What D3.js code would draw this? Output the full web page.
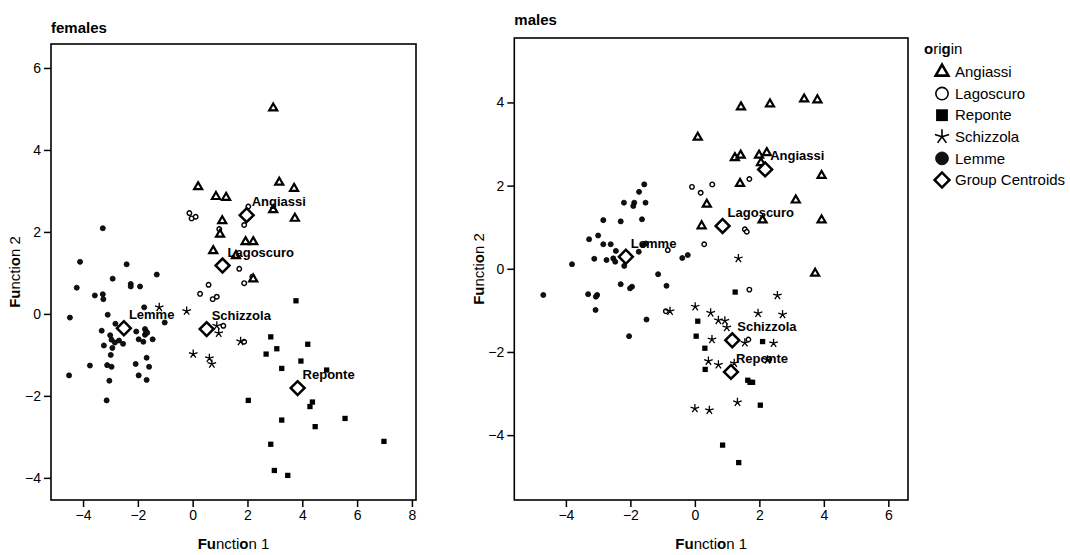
<!DOCTYPE html>
<html>
<head>
<meta charset="utf-8">
<script src="https://cdn.jsdelivr.net/npm/d3@7"></script>
<style>
  body { margin: 0; background: #fff; }
  svg { font-family: "Liberation Sans", Arial, sans-serif; }
  .tick text { font-size: 14px; fill: #000; }
  .tick line { stroke: #000; stroke-width: 1.5; }
</style>
</head>
<body>
<svg width="1070" height="555"></svg>
<script>
// ---- data (discriminant scores) ----
var groups = ["Angiassi", "Lagoscuro", "Reponte", "Schizzola", "Lemme"];

var femAngiassi = [[2.94,5.02],[0.20,3.10],[0.85,2.86],[1.22,2.84],[3.16,3.21],[3.70,3.06],[2.94,2.54],[3.73,2.33],
  [1.08,2.27],[1.00,1.94],[1.93,1.76],[2.21,1.76],[0.75,1.54],[1.58,1.42],[2.21,0.85]];
var femLagoscuro = [[-0.12,2.46],[-0.04,2.33],[0.11,2.37],[0.97,2.07],[1.88,2.17],[2.03,2.62],[0.27,0.49],[0.58,0.71],
  [0.73,0.36],[0.88,0.42],[1.12,-0.29],[1.70,1.10],[1.88,0.75],[1.88,-0.68],[2.18,0.91]];
var femReponte = [[3.77,0.32],[2.85,-0.56],[3.07,-0.85],[2.68,-0.98],[4.20,-0.74],[3.95,-1.15],[3.25,-1.33],[4.89,-1.37],
  [2.03,-2.11],[4.37,-2.15],[4.28,-2.26],[3.25,-2.59],[4.47,-2.75],[5.56,-2.55],[2.85,-3.18],[6.98,-3.11],[2.98,-3.82],[3.47,-3.94]];
var femSchizzola = [[-1.22,0.16],[-0.22,0.07],[0.88,-0.29],[0.95,-0.47],[0.02,-0.98],[0.61,-1.08],[0.70,-1.22],[1.75,-0.67]];
var femLemme = [[-3.28,2.09],[-4.11,1.27],[-2.41,1.21],[-2.92,0.86],[-1.31,0.96],[-4.23,0.64],[-2.26,0.73],[-2.26,0.67],
  [-1.92,0.67],[-3.57,0.45],[-3.28,0.48],[-3.26,0.36],[-1.77,0.16],[-4.48,-0.09],[-3.10,-0.02],[-1.02,-0.21],[-2.82,-0.24],
  [-3.32,-0.41],[-3.01,-0.52],[-2.96,-0.63],[-2.84,-0.70],[-2.69,-0.65],[-2.54,-0.73],[-2.93,-0.83],[-3.24,-0.77],
  [-2.06,-0.43],[-1.97,-0.62],[-1.80,-0.68],[-1.74,-0.37],[-1.70,-0.43],[-1.74,-0.51],[-1.46,-0.62],[-1.66,-0.46],
  [-2.99,-1.00],[-1.68,-1.07],[-1.59,-1.29],[-2.08,-1.22],[-1.97,-1.50],[-1.68,-1.61],[-3.75,-1.26],[-3.12,-1.25],
  [-2.96,-1.29],[-3.04,-1.63],[-4.51,-1.50],[-3.14,-2.11]];
var femCentroids = [[1.97,2.41],[1.09,1.18],[3.83,-1.81],[0.51,-0.37],[-2.51,-0.35]];

var maleAngiassi = [[0.09,3.16],[1.43,3.89],[2.33,3.96],[3.39,4.08],[3.80,4.06],[1.24,2.67],[1.42,2.73],[1.99,2.73],
  [2.23,2.79],[2.05,2.55],[1.40,2.05],[0.37,1.55],[3.13,1.65],[0.21,1.03],[2.10,1.17],[3.93,2.24],[3.93,1.17],[3.73,-0.11]];
var maleLagoscuro = [[-0.09,1.97],[0.18,1.83],[0.54,2.03],[1.69,2.16],[1.55,0.95],[1.61,0.89],[0.29,0.59],[-0.84,0.45],
  [1.69,-0.50],[1.66,-1.70],[2.31,-2.17],[-0.90,-1.02]];
var maleReponte = [[1.25,-0.56],[0.09,-1.26],[0.04,-1.62],[0.31,-1.91],[2.10,-1.75],[0.32,-2.42],[1.64,-2.68],[1.71,-2.73],
  [1.79,-2.73],[2.03,-3.28],[0.86,-4.24],[1.36,-4.66]];
var maleSchizzola = [[-0.77,-1.02],[0.01,-0.91],[0.49,-1.06],[0.73,-1.24],[0.93,-1.25],[0.99,-1.41],[0.53,-1.70],[1.96,-1.07],
  [2.72,-1.10],[2.56,-0.64],[1.55,-1.78],[2.44,-1.79],[0.42,-2.22],[0.73,-2.31],[1.22,-2.27],[2.25,-2.19],[1.32,-3.21],
  [0.00,-3.36],[0.45,-3.40],[1.35,0.25]];
var maleLemme = [[-1.57,2.03],[-1.73,1.85],[-2.20,1.59],[-1.88,1.59],[-1.91,1.51],[-1.53,1.59],[-2.84,1.17],[-2.30,1.14],
  [-1.64,1.19],[-3.28,0.71],[-3.00,0.80],[-2.84,0.59],[-2.61,0.59],[-2.45,0.43],[-3.12,0.24],[-2.74,0.21],[-2.53,0.25],
  [-2.47,0.17],[-2.19,0.07],[-1.60,0.57],[-1.52,0.61],[-1.74,0.41],[-0.39,0.26],[-0.22,0.33],[-3.81,0.11],[-1.14,-0.13],
  [-2.30,-0.37],[-1.95,-0.43],[-2.01,-0.47],[-0.88,-0.41],[-4.70,-0.63],[-3.31,-0.61],[-3.03,-0.63],[-3.07,-0.67],
  [-3.08,-0.99],[-1.50,-1.22],[-2.04,-1.62]];
var maleCentroids = [[2.18,2.39],[0.86,1.03],[1.12,-2.48],[1.16,-1.72],[-2.14,0.29]];

var femXTicks = [-4, -2, 0, 2, 4, 6, 8], femYTicks = [-4, -2, 0, 2, 4, 6];
var maleXTicks = [-4, -2, 0, 2, 4, 6], maleYTicks = [-4, -2, 0, 2, 4];

// ---- markers ----
function starPath(r) {
  var p = "";
  for (var i = 0; i < 5; i++) {
    var a = -Math.PI / 2 + i * 2 * Math.PI / 5;
    p += "M0,0L" + (r * Math.cos(a)).toFixed(2) + "," + (r * Math.sin(a)).toFixed(2);
  }
  return p;
}

function drawMarker(sel, group, big) {
  var k = big ? 1 : 0;
  if (group === "Angiassi") {
    sel.append("path").attr("d", d3.symbol(d3.symbolTriangle, [28, 70][k])())
      .attr("fill", "#fff").attr("stroke", "#000").attr("stroke-width", [2.2, 2.6][k])
      .attr("stroke-linejoin", "miter");
  } else if (group === "Lagoscuro") {
    sel.append("path").attr("d", d3.symbol(d3.symbolCircle, [16, 120][k])())
      .attr("fill", "#fff").attr("stroke", "#000").attr("stroke-width", [1.4, 1.6][k]);
  } else if (group === "Reponte") {
    sel.append("path").attr("d", d3.symbol(d3.symbolSquare, [28, 140][k])()).attr("fill", "#000");
  } else if (group === "Schizzola") {
    sel.append("path").attr("d", starPath([4.5, 7.5][k]))
      .attr("fill", "none").attr("stroke", "#000").attr("stroke-width", [1.3, 1.6][k]);
  } else if (group === "Lemme") {
    sel.append("path").attr("d", d3.symbol(d3.symbolCircle, [20, 130][k])())
      .attr("fill", "#111").attr("stroke", "#000").attr("stroke-width", 0.8);
  } else {
    sel.append("path").attr("d", d3.symbol(d3.symbolSquare, [96, 110][k])())
      .attr("transform", "rotate(45)")
      .attr("fill", "#fff").attr("stroke", "#000").attr("stroke-width", 2.5);
  }
}

var svg = d3.select("svg");

function panel(opt) {
  var x = d3.scaleLinear().domain(opt.xDomain).range([opt.left, opt.right]);
  var y = d3.scaleLinear().domain(opt.yDomain).range([opt.bottom, opt.top]);
  var g = svg.append("g");

  g.append("text").attr("x", opt.left).attr("y", opt.titleY)
    .attr("font-size", 15).attr("font-weight", "bold").text(opt.title);

  g.append("rect").attr("x", opt.left).attr("y", opt.top)
    .attr("width", opt.right - opt.left).attr("height", opt.bottom - opt.top)
    .attr("fill", "none").attr("stroke", "#000").attr("stroke-width", 1.6);

  g.append("g").attr("transform", "translate(0," + opt.bottom + ")")
    .call(d3.axisBottom(x).tickValues(opt.xTicks).tickSize(7).tickPadding(3))
    .call(function (a) { a.select(".domain").remove(); });
  g.append("g").attr("transform", "translate(" + opt.left + ",0)")
    .call(d3.axisLeft(y).tickValues(opt.yTicks).tickSize(7).tickPadding(3))
    .call(function (a) { a.select(".domain").remove(); });
  g.selectAll(".tick text").attr("font-family", "Liberation Sans, Arial, sans-serif");

  var cx = (opt.left + opt.right) / 2, cy = (opt.top + opt.bottom) / 2;
  var xl = g.append("text").attr("x", cx).attr("y", 549).attr("text-anchor", "middle").attr("font-size", 15);
  xl.append("tspan").attr("font-weight", "bold").text("Fu");
  xl.append("tspan").text("ncti");
  xl.append("tspan").attr("font-weight", "bold").text("o");
  xl.append("tspan").text("n 1");
  var yl = g.append("text").attr("transform", "translate(" + opt.yLabelX + "," + cy + ") rotate(-90)")
    .attr("text-anchor", "middle").attr("font-size", 15);
  yl.append("tspan").attr("font-weight", "bold").text("Fu");
  yl.append("tspan").text("ncti");
  yl.append("tspan").attr("font-weight", "bold").text("o");
  yl.append("tspan").text("n 2");

  var order = [4, 1, 0, 2, 3];
  order.forEach(function (gi) {
    g.append("g").selectAll("g").data(opt.series[gi]).enter().append("g")
      .attr("transform", function (d) { return "translate(" + x(d[0]) + "," + y(d[1]) + ")"; })
      .each(function () { drawMarker(d3.select(this), groups[gi], false); });
  });

  g.append("g").selectAll("g").data(opt.centroids).enter().append("g")
    .attr("transform", function (d) { return "translate(" + x(d[0]) + "," + y(d[1]) + ")"; })
    .each(function () { drawMarker(d3.select(this), "Group Centroids", false); });

  g.append("g").selectAll("text").data(opt.centroids).enter().append("text")
    .attr("x", function (d) { return x(d[0]) + 5; })
    .attr("y", function (d) { return y(d[1]) - 9; })
    .attr("font-size", 13).attr("font-weight", "bold")
    .text(function (d, i) { return groups[i]; });
}

panel({
  title: "females", titleY: 33,
  left: 51, right: 416, top: 44, bottom: 500, yLabelX: 20,
  xDomain: [-5.17, 8.15], yDomain: [-4.54, 6.585],
  xTicks: femXTicks, yTicks: femYTicks,
  series: [femAngiassi, femLagoscuro, femReponte, femSchizzola, femLemme],
  centroids: femCentroids
});

panel({
  title: "males", titleY: 25,
  left: 514.3, right: 908, top: 38, bottom: 500, yLabelX: 484,
  xDomain: [-5.60, 6.61], yDomain: [-5.56, 5.55],
  xTicks: maleXTicks, yTicks: maleYTicks,
  series: [maleAngiassi, maleLagoscuro, maleReponte, maleSchizzola, maleLemme],
  centroids: maleCentroids
});

// ---- legend ----
var legendItems = groups.concat(["Group Centroids"]);
var lg = svg.append("g");
var ot = lg.append("text").attr("x", 924).attr("y", 54).attr("font-size", 15);
ot.append("tspan").attr("font-weight", "bold").text("o");
ot.append("tspan").text("ri");
ot.append("tspan").attr("font-weight", "bold").text("g");
ot.append("tspan").text("in");
var rows = lg.selectAll("g.item").data(legendItems).enter().append("g").attr("class", "item")
  .attr("transform", function (d, i) { return "translate(942," + (72 + i * 21.6) + ")"; });
rows.each(function (d) { drawMarker(d3.select(this), d, true); });
rows.append("text").attr("x", 13).attr("dy", "0.35em").attr("font-size", 15).text(function (d) { return d; });
</script>
</body>
</html>
